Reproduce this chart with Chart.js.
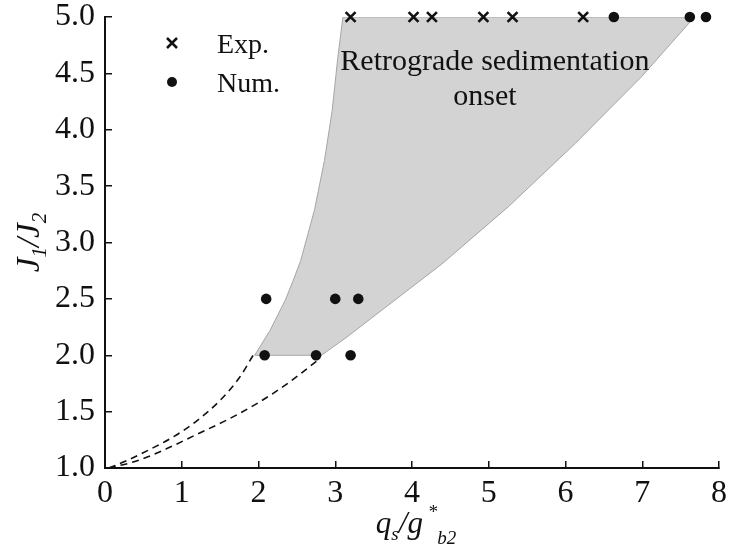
<!DOCTYPE html>
<html>
<head>
<meta charset="utf-8">
<script src="https://cdn.jsdelivr.net/npm/chart.js@4.4.0/dist/chart.umd.min.js"></script>
<style>
  html, body { margin: 0; padding: 0; background: #fff; }
  #wrap { width: 729px; height: 553px; }
</style>
</head>
<body>
<div id="wrap"><canvas id="chart" width="729" height="553"></canvas></div>
<script>
// axis ticks
const xTickValues = [0, 1, 2, 3, 4, 5, 6, 7, 8];
const xTickLabels = ['0', '1', '2', '3', '4', '5', '6', '7', '8'];
const yTickValues = [1.0, 1.5, 2.0, 2.5, 3.0, 3.5, 4.0, 4.5, 5.0];
const yTickLabels = ['1.0', '1.5', '2.0', '2.5', '3.0', '3.5', '4.0', '4.5', '5.0'];

// experiments (x) and simulations (dots)
const expX = [3.2, 4.02, 4.26, 4.93, 5.31, 6.23];
const expY = [5.0, 5.0, 5.0, 5.0, 5.0, 5.0];
const numX = [2.1, 3.0, 3.3, 2.08, 2.75, 3.2, 6.63, 7.62, 7.83];
const numY = [2.5, 2.5, 2.5, 2.0, 2.0, 2.0, 5.0, 5.0, 5.0];

// outline of the shaded onset region, clockwise from lower-left corner
const regionX = [1.95, 2.15, 2.35, 2.45, 2.55, 2.73, 2.86, 2.96, 3.03, 3.1,
                 7.68, 6.99, 6.13, 5.26, 4.39, 3.53, 3.15, 2.82, 1.95];
const regionY = [2.0, 2.22, 2.49, 2.66, 2.84, 3.29, 3.73, 4.17, 4.62, 5.0,
                 5.0, 4.47, 3.88, 3.32, 2.81, 2.36, 2.16, 2.0, 2.0];

// dashed extrapolations down to the origin
const upperDashX = [0.05, 0.3, 0.6, 0.9, 1.2, 1.5, 1.75, 1.93];
const upperDashY = [1.0, 1.07, 1.17, 1.28, 1.42, 1.6, 1.8, 2.0];
const lowerDashX = [0.05, 0.4, 0.8, 1.2, 1.6, 2.0, 2.4, 2.78];
const lowerDashY = [1.0, 1.06, 1.17, 1.3, 1.43, 1.58, 1.76, 1.96];

const legendLabels = ['Exp.', 'Num.'];
const regionLabel = ['Retrograde sedimentation', 'onset'];

const toPoints = (xs, ys) => xs.map((x, i) => ({ x: x, y: ys[i] }));

const SERIF = '"Liberation Serif", "Times New Roman", serif';
const INK = '#111';

function drawRich(ctx, pieces, x0, baseline) {
    let x = x0;
    pieces.forEach(p => {
        ctx.font = 'italic ' + p[1] + 'px ' + SERIF;
        ctx.fillText(p[0], x, baseline + p[2]);
        x += ctx.measureText(p[0]).width;
    });
}

function richWidth(ctx, pieces) {
    let w = 0;
    pieces.forEach(p => {
        ctx.font = 'italic ' + p[1] + 'px ' + SERIF;
        w += ctx.measureText(p[0]).width;
    });
    return w;
}

const figureText = {
    id: 'figureText',
    afterDraw(chart) {
        const { ctx, chartArea: a, scales: { x, y } } = chart;
        ctx.save();
        ctx.fillStyle = INK;
        ctx.strokeStyle = INK;
        ctx.textAlign = 'left';
        ctx.textBaseline = 'alphabetic';

        // label inside the shaded region
        ctx.font = '30px ' + SERIF;
        ctx.textAlign = 'center';
        ctx.fillText(regionLabel[0], x.getPixelForValue(5.08), y.getPixelForValue(4.53));
        ctx.fillText(regionLabel[1], x.getPixelForValue(4.95), y.getPixelForValue(4.22));
        ctx.textAlign = 'left';

        // legend
        const mx = a.left + 67;
        ctx.lineWidth = 2.5;
        ctx.beginPath();
        ctx.moveTo(mx - 5, a.top + 21); ctx.lineTo(mx + 5, a.top + 31);
        ctx.moveTo(mx + 5, a.top + 21); ctx.lineTo(mx - 5, a.top + 31);
        ctx.stroke();
        ctx.beginPath();
        ctx.arc(mx, a.top + 65, 5, 0, Math.PI * 2);
        ctx.fill();
        ctx.font = '28px ' + SERIF;
        ctx.fillText(legendLabels[0], a.left + 112, a.top + 36);
        ctx.fillText(legendLabels[1], a.left + 112, a.top + 75);

        // x title: q_s / g*_b2
        const xt = [['q', 31, 0], ['s', 19, 7], ['/', 31, 0], ['g', 31, 0], [' *', 19, -15], ['b2', 19, 11]];
        const cx = (a.left + a.right) / 2;
        drawRich(ctx, xt, cx - richWidth(ctx, xt) / 2 + 4, 533);

        // y title: J_1 / J_2
        const yt = [['J', 33, 0], ['1', 21, 7], ['/', 33, 0], ['J', 33, 0], ['2', 21, 7]];
        ctx.translate(39, (a.top + a.bottom) / 2);
        ctx.rotate(-Math.PI / 2);
        drawRich(ctx, yt, -richWidth(ctx, yt) / 2, 0);
        ctx.restore();
    }
};

const tickFont = { family: SERIF, size: 32, lineHeight: 1.06 };

new Chart(document.getElementById('chart'), {
    type: 'scatter',
    data: {
        datasets: [
            {
                label: legendLabels[0],
                data: toPoints(expX, expY),
                pointStyle: 'crossRot',
                pointRadius: 7,
                borderColor: INK,
                borderWidth: 2.6,
                clip: false
            },
            {
                label: legendLabels[1],
                data: toPoints(numX, numY),
                pointStyle: 'circle',
                pointRadius: 5.3,
                backgroundColor: INK,
                borderColor: INK,
                borderWidth: 0,
                clip: false
            },
            {
                label: 'upper',
                data: toPoints(upperDashX, upperDashY),
                showLine: true,
                pointRadius: 0,
                borderColor: INK,
                borderWidth: 1.6,
                borderDash: [7, 5],
                cubicInterpolationMode: 'monotone'
            },
            {
                label: 'lower',
                data: toPoints(lowerDashX, lowerDashY),
                showLine: true,
                pointRadius: 0,
                borderColor: INK,
                borderWidth: 1.6,
                borderDash: [7, 5],
                cubicInterpolationMode: 'monotone'
            },
            {
                label: 'region',
                data: toPoints(regionX, regionY),
                showLine: true,
                fill: 'shape',
                pointRadius: 0,
                backgroundColor: '#d3d3d3',
                borderColor: '#a5a5a5',
                borderWidth: 1,
                tension: 0,
                order: 10
            }
        ]
    },
    options: {
        responsive: false,
        animation: false,
        devicePixelRatio: 1,
        layout: { padding: { top: 17, right: 10, left: 0, bottom: 0 } },
        plugins: {
            legend: { display: false },
            tooltip: { enabled: false }
        },
        scales: {
            x: {
                type: 'linear',
                min: 0,
                max: 8,
                afterBuildTicks: s => { s.ticks = xTickValues.map(v => ({ value: v })); },
                afterFit: s => { s.height = 85; s.paddingLeft = 0; s.paddingRight = 0; },
                border: { display: true, color: INK, width: 2 },
                grid: { drawOnChartArea: false, tickLength: -7, color: INK, lineWidth: 1.5 },
                ticks: {
                    color: INK,
                    font: tickFont,
                    padding: 16,
                    maxRotation: 0,
                    callback: (v, i) => xTickLabels[i]
                }
            },
            y: {
                type: 'linear',
                min: 1,
                max: 5,
                afterBuildTicks: s => { s.ticks = yTickValues.map(v => ({ value: v })); },
                afterFit: s => { s.width = 105; s.paddingTop = 0; s.paddingBottom = 0; },
                border: { display: true, color: INK, width: 2 },
                grid: { drawOnChartArea: false, tickLength: -7, color: INK, lineWidth: 1.5 },
                ticks: {
                    color: INK,
                    font: tickFont,
                    padding: 17,
                    callback: (v, i) => yTickLabels[i]
                }
            }
        }
    },
    plugins: [figureText]
});
</script>
</body>
</html>
